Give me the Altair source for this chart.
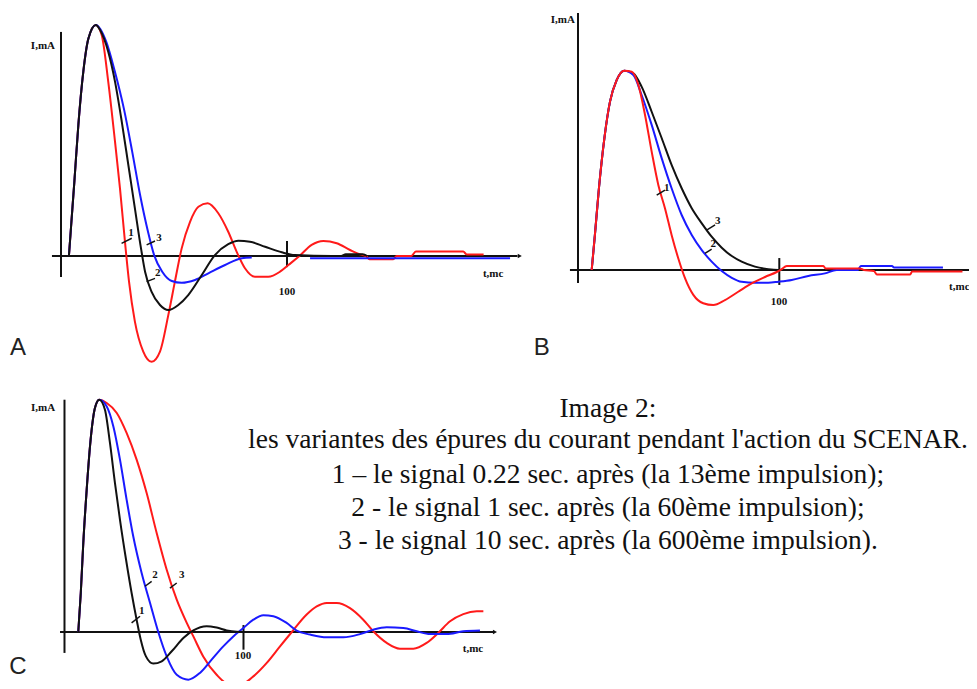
import altair as alt
import pandas as pd

RED, BLUE, BLACK = "#ff1a1a", "#1a1aff", "#111111"
SERIF = "Liberation Serif"
SANS = "Liberation Sans"

# ---------------- Panel A (t, normalised current I; peak = 1) ----------------
A_rise_t = [3.5, 4.4, 5.9, 7.7, 9.9, 12.1, 15.4]
A_rise_i = [0.0, 0.12, 0.32, 0.57, 0.80, 0.94, 1.0]
A_red_t = [18.0, 20.9, 23.9, 26.1, 28.3, 30.1, 32.7, 36.4, 40.1, 43.8, 47.5, 50.4, 53.4, 57.1,
           60.8, 64.9, 69.6, 74.0, 77.7, 81.4, 85.8, 91.7, 96.9, 100.6, 105.5, 110.9, 116.1,
           122.0, 127.9, 132.3, 135.0, 136.5, 147.0, 148.5, 155.0, 157.0, 178.0, 179.5, 187.0]
A_red_i = [0.957, 0.755, 0.495, 0.293, 0.062, -0.111, -0.284, -0.414, -0.458, -0.414, -0.255,
           -0.111, 0.033, 0.148, 0.213, 0.228, 0.185, 0.105, 0.019, -0.053, -0.09, -0.09, -0.068,
           -0.039, 0.0, 0.048, 0.065, 0.055, 0.026, 0.007, 0.0, -0.014, -0.014, 0.0, 0.0, 0.019,
           0.019, 0.007, 0.007]
A_black_t = [17.3, 20.9, 23.9, 26.9, 29.8, 32.7, 35.4, 37.2, 40.1, 43.8, 47.5, 51.9, 56.3, 62.3,
             68.1, 74.0, 78.5, 83.6, 90.3, 97.7, 103.5, 120.0, 124.0, 126.0, 133.5, 135.5]
A_black_i = [0.978, 0.884, 0.755, 0.581, 0.394, 0.206, 0.033, -0.068, -0.155, -0.212, -0.234,
             -0.212, -0.169, -0.082, 0.004, 0.051, 0.066, 0.062, 0.04, 0.016, 0.004, 0.0, 0.0,
             0.008, 0.008, 0.0]
A_blue_t = [20.0, 23.8, 27.8, 31.5, 35.0, 38.5, 41.2, 44.8, 49.0, 53.4, 59.3, 65.2, 72.6, 80.0, 84.4]
A_blue_i = [0.928, 0.80, 0.639, 0.452, 0.264, 0.105, 0.004, -0.068, -0.108, -0.116, -0.104,
            -0.075, -0.039, -0.01, -0.007]
A_blue_tail_t = [110.2, 198.7]
A_blue_tail_i = [-0.01, -0.01]

# ---------------- Panel B ----------------
B_rise_t = [6.8, 8.4, 10.4, 13.1, 15.9, 19.2, 23.0]
B_rise_i = [0.0, 0.176, 0.41, 0.661, 0.845, 0.953, 1.0]
B_red_t = [26.7, 30.0, 33.3, 36.6, 39.9, 43.2, 46.5, 49.8, 53.2, 57.3, 62.2, 67.2, 73.0, 79.6,
           86.3, 92.9, 98.7, 101.0, 103.7, 121.9, 123.0, 140.0, 142.0, 147.0, 148.5, 165.0, 166.0, 191.0]
B_red_i = [0.995, 0.928, 0.778, 0.594, 0.427, 0.31, 0.176, 0.059, -0.042, -0.125, -0.167, -0.176,
           -0.151, -0.109, -0.067, -0.035, -0.01, 0.003, 0.02, 0.02, 0.008, 0.008, 0.0, -0.005,
           -0.022, -0.022, -0.008, -0.008]
B_blue_t = [27.5, 31.6, 36.6, 41.6, 46.5, 51.5, 56.5, 61.5, 66.4, 71.4, 76.4, 81.3, 87.9, 94.5,
            99.5, 106.2, 114.4, 122.7, 128.5, 139.0, 140.5, 156.0, 157.0, 181.3]
B_blue_i = [0.978, 0.878, 0.728, 0.56, 0.41, 0.276, 0.176, 0.1, 0.042, -0.005, -0.039, -0.059,
            -0.064, -0.064, -0.059, -0.05, -0.03, -0.017, 0.0, 0.0, 0.02, 0.02, 0.013, 0.013]
B_black_t = [27.5, 31.6, 36.6, 41.6, 46.5, 51.5, 56.5, 61.5, 66.4, 71.4, 76.4, 81.3, 87.9, 94.5,
             99.5, 140.0]
B_black_i = [0.987, 0.92, 0.794, 0.661, 0.527, 0.41, 0.31, 0.234, 0.167, 0.112, 0.07, 0.042,
             0.017, 0.004, 0.0, 0.0]

# ---------------- Panel C ----------------
C_rise_t = [7.7, 9.1, 10.5, 12.4, 14.6, 17.0, 19.4]
C_rise_i = [0.0, 0.168, 0.383, 0.613, 0.828, 0.964, 1.0]
C_black_t = [22.6, 25.4, 28.2, 31.0, 34.4, 37.5, 40.3, 42.6, 45.5, 49.6, 54.3, 59.9, 66.4, 72.0,
             79.4, 85.0, 90.6, 96.2, 100.0]
C_black_i = [0.957, 0.814, 0.641, 0.483, 0.311, 0.168, 0.053, -0.033, -0.105, -0.136, -0.126,
             -0.083, -0.026, 0.007, 0.025, 0.019, 0.007, 0.001, 0.0]
C_blue_t = [23.6, 27.3, 31.0, 34.7, 38.4, 43.1, 47.8, 52.4, 57.1, 62.7, 69.2, 75.7, 82.2, 88.7,
            94.3, 99.9, 105.5, 111.1, 116.7, 124.1, 129.7, 137.2, 146.5, 155.8, 165.1, 172.5,
            180.0, 189.3, 196.8, 204.2, 213.5, 222.8, 232.1]
C_blue_i = [0.971, 0.885, 0.742, 0.57, 0.412, 0.254, 0.125, 0.0, -0.105, -0.184, -0.205, -0.176,
            -0.119, -0.062, -0.019, 0.017, 0.053, 0.072, 0.068, 0.039, 0.006, -0.011, -0.023,
            -0.023, -0.009, 0.01, 0.02, 0.017, 0.003, -0.009, -0.009, 0.003, 0.006]
C_red_t = [23.6, 29.2, 34.7, 40.3, 45.9, 51.5, 57.1, 62.7, 68.3, 72.0, 77.5, 85.0, 92.5, 98.0,
           105.5, 113.0, 120.4, 127.0, 135.3, 140.9, 146.5, 152.1, 159.5, 166.9, 172.5, 180.0,
           187.4, 194.9, 202.3, 208.8, 215.4, 222.8, 230.3, 234.0]
C_red_i = [0.986, 0.943, 0.857, 0.742, 0.598, 0.426, 0.268, 0.139, 0.039, -0.019, -0.105, -0.184,
           -0.227, -0.227, -0.191, -0.133, -0.062, 0.0, 0.075, 0.11, 0.125, 0.125, 0.103, 0.053,
           0.003, -0.047, -0.072, -0.072, -0.047, -0.004, 0.046, 0.077, 0.089, 0.089]

# axes lines (t1, i1, t2, i2)
A_axes = [(0, -0.091, 0, 0.97), (-4, 0, 202, 0), (100, -0.048, 100, 0.065)]
B_axes = [(0, -0.065, 0, 1.29), (-4, 0, 195, 0), (100, -0.075, 100, 0.06)]
C_axes = [(0, -0.09, 0, 1.0), (-2.5, 0, 239.5, 0), (100, -0.076, 100, 0.03)]
# curve-number marker strokes
A_marks = [(26.8, 0.055, 31.3, 0.077), (37.9, 0.048, 41.6, 0.065), (37.9, -0.111, 41.6, -0.097)]
B_marks = [(39.1, 0.376, 43.2, 0.401), (63.9, 0.2, 68.1, 0.226), (63.1, 0.084, 66.4, 0.105)]
C_marks = [(37.5, 0.039, 42.2, 0.068), (45.0, 0.197, 48.7, 0.218), (58.9, 0.189, 62.7, 0.211)]
# small labels (t, i, text)
A_labels = [(-8.0, 0.909, "I,mA"), (100.0, -0.156, "100"), (191.2, -0.078, "t,mc"),
            (31.0, 0.098, "1"), (43.4, 0.079, "3"), (42.8, -0.075, "2")]
B_labels = [(-7.5, 1.254, "I,mA"), (99.9, -0.16, "100"),
            (44.1, 0.413, "1"), (69.4, 0.247, "3"), (67.2, 0.129, "2")]
B_edge_label = [(194.5, -0.085, "t,mc")]
C_labels = [(-12.0, 0.964, "I,mA"), (99.7, -0.103, "100"), (228.2, -0.073, "t,mc"),
            (43.1, 0.089, "1"), (50.6, 0.247, "2"), (65.5, 0.247, "3")]
A_letter = [(-19.0, -0.429, "A")]
B_letter = [(-18.0, -0.4265, "B")]
C_letter = [(-26.0, -0.18, "C")]
A_arrow = [(203.0, 0.0)]
C_arrow = [(240.5, 0.0)]

caption_lines = ["Image 2:",
                 "les variantes des épures du courant pendant l'action du SCENAR.",
                 "1 \u2013 le signal 0.22 sec. après (la 13ème impulsion);",
                 "2 - le signal 1 sec. après (la 60ème impulsion);",
                 "3 - le signal 10 sec. après (la 600ème impulsion)."]
caption_i = [0.958, 0.828, 0.676, 0.534, 0.392]
caption_t = 303.6


def curve(rise_t, rise_i, t, i):
    tt = rise_t + t
    ii = rise_i + i
    return pd.DataFrame({"t": tt, "i": ii, "o": list(range(len(tt)))})


def panel(curves, axes, marks, labels, letter, arrow, xdom, ydom, caption=None, edge=None):
    sx = alt.Scale(domain=xdom, nice=False, zero=False)
    sy = alt.Scale(domain=ydom, nice=False, zero=False)

    def X(f):
        return alt.X(f, type="quantitative", scale=sx, axis=None)

    def Y(f):
        return alt.Y(f, type="quantitative", scale=sy, axis=None)

    layers = []
    ax = pd.DataFrame(axes, columns=["t", "i", "t2", "i2"])
    layers.append(alt.Chart(ax).mark_rule(color=BLACK, strokeWidth=2, clip=True).encode(
        x=X("t"), y=Y("i"), x2="t2", y2="i2"))
    for df, color in curves:
        layers.append(alt.Chart(df).mark_line(color=color, strokeWidth=2, interpolate="monotone",
                                              clip=True).encode(x=X("t"), y=Y("i"), order="o:Q"))
    mk = pd.DataFrame(marks, columns=["t", "i", "t2", "i2"])
    layers.append(alt.Chart(mk).mark_rule(color=BLACK, strokeWidth=1.5, clip=True).encode(
        x=X("t"), y=Y("i"), x2="t2", y2="i2"))
    if arrow:
        ar = pd.DataFrame(arrow, columns=["t", "i"])
        layers.append(alt.Chart(ar).mark_point(shape="triangle-right", filled=True, size=22,
                                               color=BLACK, opacity=1, clip=True).encode(
            x=X("t"), y=Y("i")))
    lb = pd.DataFrame(labels, columns=["t", "i", "s"])
    layers.append(alt.Chart(lb).mark_text(font=SERIF, fontWeight="bold", fontSize=11, color=BLACK,
                                          baseline="middle", clip=True).encode(
        x=X("t"), y=Y("i"), text="s:N"))
    if edge:
        ed = pd.DataFrame(edge, columns=["t", "i", "s"])
        layers.append(alt.Chart(ed).mark_text(font=SERIF, fontWeight="bold", fontSize=11,
                                              color=BLACK, baseline="middle", align="right",
                                              clip=True).encode(
            x=X("t"), y=Y("i"), text="s:N"))
    lt = pd.DataFrame(letter, columns=["t", "i", "s"])
    layers.append(alt.Chart(lt).mark_text(font=SANS, fontSize=24, color="#222222",
                                          baseline="alphabetic", clip=True).encode(
        x=X("t"), y=Y("i"), text="s:N"))
    if caption is not None:
        layers.append(alt.Chart(caption).mark_text(font=SERIF, fontSize=27.5, color=BLACK,
                                                   baseline="middle", clip=True).encode(
            x=X("t"), y=Y("i"), text="s:N"))
    return alt.layer(*layers)


# one canvas of 961 x 673 px; each panel has its own (independent) t and I scales
chart_A = panel(
    [(curve(A_rise_t, A_rise_i, A_red_t, A_red_i), RED),
     (curve(A_rise_t, A_rise_i, A_blue_t, A_blue_i), BLUE),
     (curve([], [], A_blue_tail_t, A_blue_tail_i), BLUE),
     (curve(A_rise_t, A_rise_i, A_black_t, A_black_i), BLACK)],
    A_axes, A_marks, A_labels, A_letter, A_arrow,
    [-23.45, 401.77], [-1.8398, 1.0736])

chart_B = panel(
    [(curve(B_rise_t, B_rise_i, B_black_t, B_black_i), BLACK),
     (curve(B_rise_t, B_rise_i, B_blue_t, B_blue_i), BLUE),
     (curve(B_rise_t, B_rise_i, B_red_t, B_red_i), RED)],
    B_axes, B_marks, B_labels, B_letter, None,
    [-283.16, 194.24], [-2.0622, 1.3146], edge=B_edge_label)

cap = pd.DataFrame({"t": [caption_t] * len(caption_lines), "i": caption_i, "s": caption_lines})
chart_C = panel(
    [(curve(C_rise_t, C_rise_i, C_red_t, C_red_i), RED),
     (curve(C_rise_t, C_rise_i, C_blue_t, C_blue_i), BLUE),
     (curve(C_rise_t, C_rise_i, C_black_t, C_black_i), BLACK)],
    C_axes, C_marks, C_labels, C_letter, C_arrow,
    [-31.56, 505.31], [-0.2109, 2.6862], caption=cap)

chart = alt.layer(chart_A, chart_B, chart_C).resolve_scale(
    x="independent", y="independent").properties(
    width=961, height=673, padding=0).configure_view(stroke=None)

chart.save("out.html", embed_options={"renderer": "svg", "actions": False})
